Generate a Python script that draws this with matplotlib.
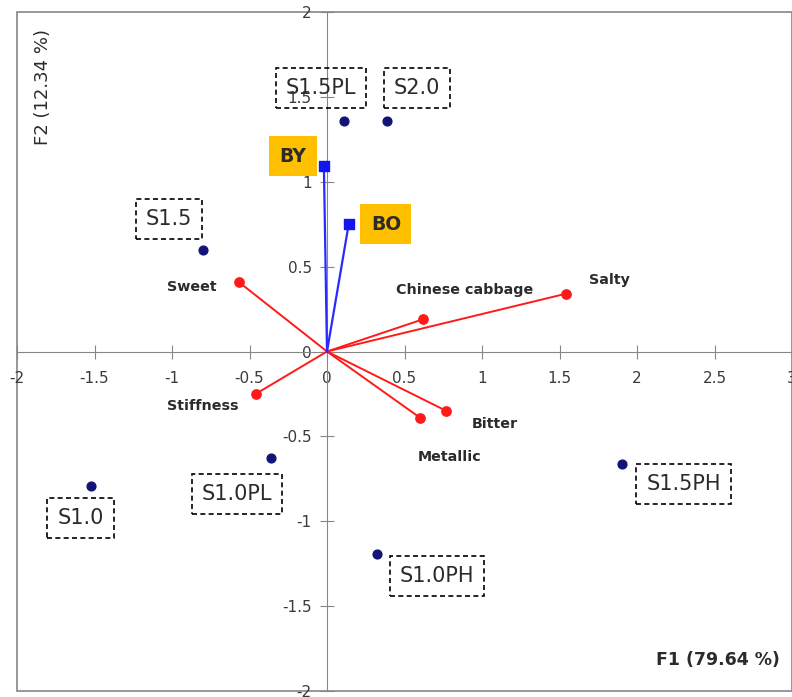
import matplotlib.pyplot as plt
from matplotlib.patches import Rectangle

plt.rcParams['font.family'] = ['DejaVu Sans']

# observations (sample scores on F1/F2)
samples = ['S1.5PL', 'S2.0', 'S1.5', 'S1.0', 'S1.0PL', 'S1.0PH', 'S1.5PH']
sample_f1 = [0.11, 0.39, -0.80, -1.52, -0.36, 0.32, 1.90]
sample_f2 = [1.36, 1.36, 0.60, -0.79, -0.63, -1.19, -0.66]

# supplementary variables (blue)
supp = ['BY', 'BO']
supp_f1 = [-0.02, 0.14]
supp_f2 = [1.09, 0.75]

# sensory attributes (red)
attrs = ['Sweet', 'Salty', 'Chinese cabbage', 'Stiffness', 'Bitter', 'Metallic']
attr_f1 = [-0.57, 1.54, 0.62, -0.46, 0.77, 0.60]
attr_f2 = [0.41, 0.34, 0.19, -0.25, -0.35, -0.39]

# where each label sits
sample_lbl = [(-0.04, 1.55), (0.58, 1.55), (-1.02, 0.78), (-1.59, -0.98),
              (-0.58, -0.84), (0.71, -1.32), (2.30, -0.78)]
supp_lbl = [(-0.22, 1.15), (0.38, 0.75)]
attr_lbl = [(-0.87, 0.38), (1.82, 0.42), (0.89, 0.36), (-0.80, -0.32),
            (1.08, -0.43), (0.79, -0.62)]

axis_grey = '#868686'
text_dark = '#2b2b2b'

fig = plt.figure(figsize=(7.92, 6.97), dpi=100)
ax = fig.add_axes([17 / 792, 6 / 697, 775 / 792, 679 / 697])
ax.set_xlim(-2, 3)
ax.set_ylim(-2, 2)

# axes crossing at the origin, plus an outer frame
for side in ['left', 'bottom']:
    ax.spines[side].set_position('zero')
    ax.spines[side].set_color(axis_grey)
for side in ['top', 'right']:
    ax.spines[side].set_visible(False)
ax.add_patch(Rectangle((0, 0), 1, 1, transform=ax.transAxes, fill=False,
                       edgecolor=axis_grey, lw=1.2, clip_on=False, zorder=0))

ax.set_xticks([-2, -1.5, -1, -0.5, 0, 0.5, 1, 1.5, 2, 2.5, 3])
ax.set_yticks([-2, -1.5, -1, -0.5, 0, 0.5, 1, 1.5, 2])
ax.set_xticklabels(['-2', '-1.5', '-1', '-0.5', '0', '0.5', '1', '1.5', '2', '2.5', '3'])
ax.set_yticklabels(['-2', '-1.5', '-1', '-0.5', '0', '0.5', '1', '1.5', '2'])
ax.tick_params(axis='x', direction='inout', length=10, color=axis_grey,
               labelsize=11, labelcolor='#3a3a3a', pad=9)
ax.tick_params(axis='y', direction='inout', length=10, color=axis_grey,
               labelsize=11, labelcolor='#3a3a3a', pad=6)

# attribute vectors
for x, y in zip(attr_f1, attr_f2):
    ax.plot([0, x], [0, y], color='#FF1A1A', lw=1.4, zorder=3)
ax.scatter(attr_f1, attr_f2, s=45, color='#FF1A1A', zorder=4)
for name, (lx, ly) in zip(attrs, attr_lbl):
    ax.text(lx, ly, name, ha='center', va='center', fontsize=10.3,
            fontweight='bold', color=text_dark)

# supplementary vectors
for x, y in zip(supp_f1, supp_f2):
    ax.plot([0, x], [0, y], color='#2A2AFF', lw=1.6, zorder=3)
ax.scatter(supp_f1, supp_f2, s=50, marker='s', color='#1515F0', zorder=4)
for name, (lx, ly) in zip(supp, supp_lbl):
    ax.text(lx, ly, name, ha='center', va='center', fontsize=13.5,
            fontweight='bold', color=text_dark,
            bbox=dict(boxstyle='square,pad=0.55', facecolor='#FFC000',
                      edgecolor='none'))

# observations
ax.scatter(sample_f1, sample_f2, s=40, color='#141478', zorder=4)
for name, (lx, ly) in zip(samples, sample_lbl):
    ax.text(lx, ly, name, ha='center', va='center', fontsize=15,
            color=text_dark,
            bbox=dict(boxstyle='square,pad=0.48', facecolor='none',
                      edgecolor='black', linestyle=(0, (3, 2)), lw=1.2))

ax.text(0.033, 0.89, 'F2 (12.34 %)', transform=ax.transAxes, rotation=90,
        ha='center', va='center', fontsize=13, color=text_dark)
ax.text(0.905, 0.045, 'F1 (79.64 %)', transform=ax.transAxes,
        ha='center', va='center', fontsize=12.5, fontweight='bold', color=text_dark)

fig.savefig('out.png', dpi=100)
